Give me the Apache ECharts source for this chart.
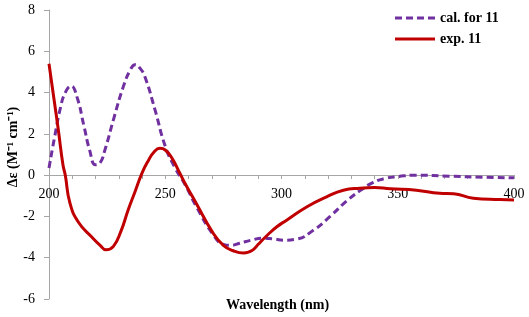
<!DOCTYPE html>
<html>
<head>
<meta charset="utf-8">
<script src="https://cdn.jsdelivr.net/npm/echarts@6/dist/echarts.min.js"></script>
<style>
  html, body { margin: 0; padding: 0; background: #fff; }
  #chart { width: 529px; height: 317px; }
</style>
</head>
<body>
<div id="chart"></div>
<script>
// 数据接口
let calWl = [200, 202.5, 205, 207, 209.5, 212, 215, 217.5, 220, 222, 224, 228, 232, 235, 237, 239, 241.3, 245.6, 250, 254, 258.5, 263.5, 270.7, 275, 278, 282, 287, 292, 297, 301, 306.5, 313.7, 320.9, 328, 333.8, 339.5, 345, 350, 358, 372.5, 386.8, 400]
let calVal = [0.35, 1.9, 3.3, 4.0, 4.32, 3.8, 2.4, 1.2, 0.5, 0.6, 1.2, 2.8, 4.3, 5.1, 5.35, 5.2, 4.75, 3.16, 1.4, 0.4, -0.45, -1.55, -2.9, -3.35, -3.4, -3.3, -3.15, -3.05, -3.1, -3.15, -3.1, -2.67, -2.0, -1.25, -0.75, -0.35, -0.15, -0.07, 0, -0.05, -0.1, -0.13]
let expWl = [200, 202, 204, 206, 207, 209, 212.6, 218.4, 222, 224.5, 227.7, 231, 234, 237, 240, 242.7, 245, 247.7, 250, 253, 256, 259, 263, 270.7, 275, 279, 283.6, 286, 288, 290, 294, 298, 302.2, 310.8, 319.4, 326.6, 333.8, 340, 346.7, 358, 368, 374, 382.5, 394, 400]
let expVal = [5.4, 3.8, 2.2, 0.5, 0, -1.35, -2.27, -3.0, -3.4, -3.62, -3.45, -2.7, -1.7, -0.8, 0.1, 0.7, 1.1, 1.3, 1.22, 0.8, 0.15, -0.5, -1.3, -2.83, -3.4, -3.65, -3.77, -3.72, -3.6, -3.35, -2.9, -2.5, -2.18, -1.54, -1.05, -0.73, -0.63, -0.6, -0.66, -0.73, -0.88, -0.9, -1.12, -1.18, -1.2]
let legendNames = ['cal. for 11', 'exp. 11']

let pairs = (xs, ys) => xs.map((x, i) => [x, ys[i]])
let serif = '"Liberation Serif", "Times New Roman", serif'
let axisGray = '#a6a6a6'
let purple = '#7030a0'
let red = '#c00000'

let myChart = echarts.init(document.getElementById('chart'))
myChart.setOption({
    animation: false,
    grid: { left: 49, right: 15, top: 10, bottom: 18, containLabel: false, outerBoundsMode: 'none' },
    legend: {
        orient: 'vertical',
        left: 390,
        top: 6,
        itemWidth: 40,
        itemHeight: 3,
        itemGap: 7,
        data: [
            { name: legendNames[0], icon: 'path://M0,0h7v3h-7zM11,0h7v3h-7zM22,0h7v3h-7zM33,0h7v3h-7z' },
            { name: legendNames[1], icon: 'path://M0,0h40v3h-40z' }
        ],
        textStyle: { fontFamily: serif, fontWeight: 'bold', fontSize: 14, color: '#000' }
    },
    xAxis: {
        type: 'value',
        min: 200, max: 400, interval: 10,
        position: 'bottom',
        // 轴线放在 y=0 处
        offset: -124,
        axisLine: { onZero: false, lineStyle: { color: axisGray, width: 1 } },
        axisTick: { length: 4, lineStyle: { color: axisGray } },
        splitLine: { show: false },
        axisLabel: {
            margin: 12,
            fontFamily: serif, fontSize: 14, color: '#000',
            formatter: v => (v % 50 === 0 ? String(v) : '')
        }
    },
    yAxis: {
        type: 'value',
        min: -6, max: 8, interval: 2,
        axisLine: { show: true, lineStyle: { color: axisGray, width: 1 } },
        axisTick: { show: true, length: 5, lineStyle: { color: axisGray } },
        splitLine: { show: false },
        axisLabel: { margin: 14, fontFamily: serif, fontSize: 14, color: '#000' }
    },
    graphic: [
        {
            type: 'text',
            left: 226,
            top: 298,
            style: { text: 'Wavelength (nm)', font: 'bold 14px ' + serif, fill: '#000' }
        },
        {
            type: 'text',
            x: 13,
            y: 147,
            rotation: Math.PI / 2,
            style: {
                text: 'Δε (M⁻¹ cm⁻¹)', font: 'bold 14px ' + serif, fill: '#000',
                align: 'center', verticalAlign: 'middle'
            }
        }
    ],
    series: [
        {
            name: legendNames[0],
            type: 'line',
            smooth: true,
            symbol: 'none',
            data: pairs(calWl, calVal),
            lineStyle: { color: purple, width: 3, type: [7, 4] },
            itemStyle: { color: purple }
        },
        {
            name: legendNames[1],
            type: 'line',
            smooth: true,
            symbol: 'none',
            data: pairs(expWl, expVal),
            lineStyle: { color: red, width: 3 },
            itemStyle: { color: red }
        }
    ]
});
</script>
</body>
</html>
